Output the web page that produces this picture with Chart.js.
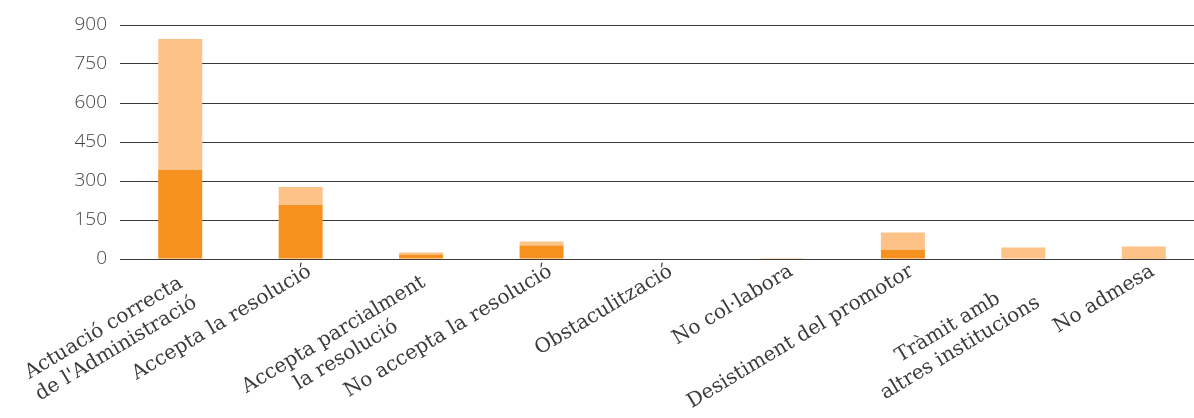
<!DOCTYPE html>
<html>
<head>
<meta charset="utf-8">
<script src="https://cdn.jsdelivr.net/npm/chart.js@4"></script>
<style>
  html, body { margin: 0; padding: 0; background: #fff; overflow: hidden; }
  #wrap { width: 1204px; height: 418px; }
</style>
</head>
<body>
<div id="wrap"><canvas id="chart" width="1204" height="418"></canvas></div>
<script>
// categories (multi-line labels as arrays)
const categories = [
  ['Actuació correcta', "de l'Administració"],
  'Accepta la resolució',
  ['Accepta parcialment', 'la resolució'],
  'No accepta la resolució',
  'Obstaculització',
  'No col·labora',
  'Desistiment del promotor',
  ['Tràmit amb', 'altres institucions'],
  'No admesa'
];
const darkValues  = [342, 208, 17, 52, 0, 1, 36, 0, 5];
const lightValues = [504, 69, 8, 15, 0, 0, 66, 44, 43];
const yTicks = [0, 150, 300, 450, 600, 750, 900];

const dark = '#F6901E', light = '#FDC288';
const labelFont = '20px "DejaVu Serif"';
const labelAngle = 31 * Math.PI / 180;

// rotated category labels, lines centred inside the block like the original
const slantLabels = {
  id: 'slantLabels',
  afterDraw(chart) {
    const xs = chart.scales.x, ctx = chart.ctx;
    ctx.save();
    ctx.font = labelFont;
    ctx.fillStyle = '#3c3c3c';
    ctx.textBaseline = 'middle';
    chart.data.labels.forEach((lab, i) => {
      const lines = Array.isArray(lab) ? lab : [lab];
      const w = Math.max(...lines.map(l => ctx.measureText(l).width));
      const lh = 24;
      ctx.save();
      ctx.translate(xs.getPixelForTick(i), xs.top);
      ctx.rotate(-labelAngle);
      if (lines.length === 1) {
        ctx.textAlign = 'right';
        ctx.fillText(lines[0], 2, 14);
      } else {
        ctx.textAlign = 'center';
        lines.forEach((l, j) => ctx.fillText(l, -9 - w / 2, 20 + j * lh));
      }
      ctx.restore();
    });
    ctx.restore();
  }
};

new Chart(document.getElementById('chart'), {
  type: 'bar',
  data: {
    labels: categories,
    datasets: [
      { label: 'A', data: darkValues, backgroundColor: dark, barPercentage: 1, categoryPercentage: 0.365 },
      { label: 'B', data: lightValues, backgroundColor: light, barPercentage: 1, categoryPercentage: 0.365 }
    ]
  },
  options: {
    responsive: false,
    animation: false,
    layout: { padding: { top: 25, right: 0, bottom: 0, left: 0 } },
    plugins: { legend: { display: false }, tooltip: { enabled: false } },
    scales: {
      x: {
        stacked: true,
        grid: { display: false, drawTicks: false },
        border: { display: false },
        ticks: { display: false },
        afterFit: s => { s.height = 159; }
      },
      y: {
        stacked: true,
        min: 0, max: 900,
        afterBuildTicks: s => { s.ticks = yTicks.map(v => ({ value: v })); },
        grid: { color: '#3a3a3a', lineWidth: 1, drawTicks: false },
        border: { display: false },
        ticks: { padding: 13, color: '#444', font: { family: 'Open Sans', size: 19, weight: 300 } },
        afterFit: s => { s.width = 120; }
      }
    }
  },
  plugins: [slantLabels]
});
</script>
</body>
</html>
